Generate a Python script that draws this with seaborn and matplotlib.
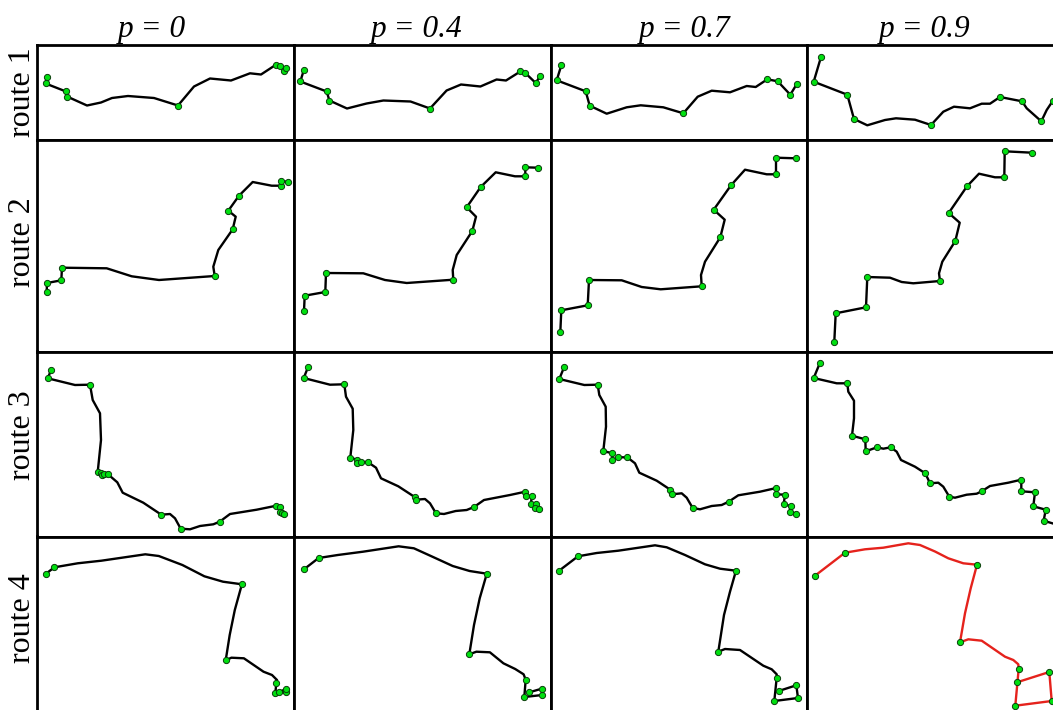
import numpy as np
import pandas as pd
import matplotlib.pyplot as plt
import seaborn as sns

p_labels = ['p = 0', 'p = 0.4', 'p = 0.7', 'p = 0.9']
route_labels = ['route 1', 'route 2', 'route 3', 'route 4']

# all routes, in picture pixels
r1_p0_x = [47, 45.6, 66, 67, 87, 101, 112, 128, 154, 178, 194, 210, 231, 250, 261, 276, 280, 284, 286]
r1_p0_y = [77.5, 83.5, 91.5, 96.5, 105.5, 102.5, 98, 96, 98, 105.5, 86.5, 78.5, 80.5, 73.3, 74.5, 64.7, 66, 71.5, 68.5]
r1_p0_stops = [0, 1, 2, 3, 9, 15, 16, 17, 18]
r1_p4_x = [303.7, 300.3, 326.7, 329.4, 347, 366.6, 383.4, 410.5, 430, 446.6, 461, 480.4, 496.6, 506, 520.3, 525.3, 535.7, 540]
r1_p4_y = [70.5, 81.5, 91.5, 100.5, 108.5, 103.5, 100.5, 101.5, 108.5, 90.5, 84.5, 86.5, 79.5, 80.5, 71.5, 73, 83, 76.3]
r1_p7_x = [561.3, 556.7, 585.7, 589.7, 606.7, 626.7, 640.7, 663.3, 683.3, 697.7, 711.7, 730, 746.7, 755.7, 767.3, 777.7, 790.3, 797]
r1_p7_y = [65.3, 80.3, 91.3, 105.7, 113.7, 107.3, 105.3, 107.3, 113.3, 96.7, 90.7, 92.3, 86, 87, 79.3, 81.3, 94.7, 83.7]
r1_p9_x = [821, 813.7, 847.3, 854, 867.3, 885, 896, 915, 931, 943.3, 954, 970, 981.7, 990, 1000, 1022, 1026.7, 1041.3, 1046.7, 1052.7]
r1_p9_y = [57, 81.7, 94.7, 119, 125.3, 120, 118.3, 119.7, 125, 111.7, 106.7, 108.3, 103.7, 103.7, 97, 101.3, 108.3, 121.3, 110, 101]
r1_p4_stops = [0, 1, 2, 3, 8, 14, 15, 16, 17]
r1_p7_stops = [0, 1, 2, 3, 8, 14, 15, 16, 17]
r1_p9_stops = [0, 1, 2, 3, 8, 14, 15, 17, 19]

r2_p0_x = [46.7, 47, 61.3, 62, 106.7, 131.7, 159, 214.7, 213.3, 218.3, 232.7, 235.7, 228.3, 239, 252.7, 271.7, 281, 281, 287.7]
r2_p0_y = [292, 283, 280.3, 267.7, 268.3, 276.3, 280, 276, 266.7, 250, 229.3, 216.7, 210.7, 195.7, 182, 185.7, 185.7, 181.3, 181.7]
r2_p4_x = [304, 304.7, 325.3, 326, 363.3, 385, 406.7, 453.3, 452.7, 456.7, 472.3, 476, 466.7, 480.7, 495.7, 515, 525.3, 525.3, 537.7]
r2_p4_y = [311, 295.7, 292, 273, 273.3, 280, 283, 279.7, 270, 255, 231, 216.7, 207.3, 187, 172.3, 176.3, 176.3, 167.3, 167.7]
r2_p7_x = [560.3, 561.3, 587.7, 589, 621.7, 641.7, 660.7, 701.7, 701, 705, 720.3, 724.7, 713.7, 731, 745, 766.7, 776, 776, 795.7]
r2_p7_y = [332.3, 310.3, 305.3, 280, 280.3, 287, 289.3, 286.3, 275, 261.7, 237.3, 219.7, 209.7, 185.3, 169.7, 174.3, 174.3, 157.7, 158.3]
r2_p9_x = [834.3, 835.7, 866, 867.3, 890, 901.7, 913.3, 940, 939, 942.3, 955.3, 959.7, 948.7, 967, 979, 995, 1004.3, 1004.7, 1032]
r2_p9_y = [341.7, 313.3, 307.3, 277, 277.7, 282, 283.3, 281, 273.3, 261.7, 241, 222.7, 213, 186.3, 173.7, 177.3, 177.3, 151.3, 152.7]
r2_stops = [0, 1, 2, 3, 7, 10, 12, 13, 16, 17, 18]

r3_p0_x = [51, 47.7, 75, 90, 92.7, 100, 101, 97.7, 101.3, 102, 103.7, 108, 117.3, 122.7, 143.3, 161.3, 170, 175, 180.7, 190, 200, 213.3, 219.7, 230, 256.7, 276.3, 280.3, 279.7, 282, 284]
r3_p0_y = [370.3, 378.3, 385, 384.7, 400, 413.3, 440, 472, 473.3, 475.3, 474.3, 474.3, 482.3, 492.7, 502.7, 514.7, 514, 518.3, 528.7, 529.3, 526, 524.3, 521.7, 514, 509.7, 505.7, 507.3, 512, 513.3, 514.3]
r3_p0_stops = [0, 1, 3, 7, 8, 9, 10, 11, 15, 18, 22, 25, 26, 27, 28, 29]
r3_p4_x = [308, 303.7, 330, 344.3, 346, 352.7, 353.3, 350.3, 357, 357, 360.7, 367.7, 376, 381, 398.3, 414.7, 415.7, 425, 430, 436, 444, 455.7, 466.7, 474, 484, 510, 525.3, 525.7, 531.7, 531, 535.7, 535.3, 539.3]
r3_p4_y = [367.3, 378, 384.7, 384.3, 396.7, 408.7, 430, 457.7, 459.7, 463.3, 462, 462, 467.7, 478.3, 486.3, 497, 499.7, 499, 503.3, 513.3, 514, 511, 510, 507, 500, 495, 491.7, 495.7, 496, 503.7, 504.3, 507.7, 509]
r3_p7_x = [564.3, 559.3, 584.3, 597.7, 599.3, 605.7, 606, 603.3, 612.3, 612.3, 618.3, 627.3, 635, 639.3, 656.7, 670.3, 672.3, 681.7, 686.7, 692.7, 700, 711.7, 721.7, 728.7, 738.3, 760, 776.3, 776.3, 785, 783.7, 790.7, 789.7, 796.3]
r3_p7_y = [366.7, 379, 385, 384.7, 395, 406.7, 426.7, 451, 453.3, 459.7, 457.3, 457.3, 463.3, 472.7, 480.7, 489.7, 494.3, 493.3, 497.7, 508, 509.3, 506, 505, 501.7, 495.3, 491.7, 488, 494.3, 494.7, 504.3, 506, 511.7, 513.7]
r3_p9_x = [820, 813.7, 836.7, 847.3, 848.3, 854, 854, 852, 865.3, 865.7, 877, 883.3, 890.7, 896.7, 901, 915, 925.3, 930, 938.3, 943.3, 949.3, 955, 966.7, 976.7, 981.7, 990, 1008.3, 1021.3, 1021.3, 1035, 1033.3, 1045.7, 1043.7, 1058]
r3_p9_y = [362.7, 378, 383.3, 383.3, 391.7, 400.7, 418.3, 435.7, 439.3, 451.3, 447.3, 448.7, 447.3, 451.7, 460, 466.7, 473.3, 483.3, 482.7, 486.7, 496.7, 497.7, 494.7, 493.7, 491.3, 486, 482.7, 479.7, 491.3, 492.3, 506.3, 509.7, 520.7, 525]
r3_p4_stops = [0, 1, 3, 7, 8, 9, 10, 11, 15, 16, 19, 23, 26, 27, 28, 29, 30, 31, 32]
r3_p7_stops = [0, 1, 3, 7, 8, 9, 10, 11, 15, 16, 19, 23, 26, 27, 28, 29, 30, 31, 32]
r3_p9_stops = [0, 1, 3, 7, 8, 9, 10, 12, 16, 17, 20, 24, 27, 28, 29, 30, 31, 32]

r4_p0_x = [45.6, 54.4, 77.7, 101.4, 145.3, 158.8, 182.4, 204.4, 223, 241.9, 234.8, 229.7, 225.7, 231.4, 243.9, 263.5, 272, 277, 276.4, 275.3, 286, 285.8, 279.4]
r4_p0_y = [574, 567.3, 563.3, 560.7, 554.3, 556, 565, 576.3, 581.7, 584.3, 610, 635, 660.3, 657.7, 658.3, 671.7, 675, 680, 683, 693, 692.3, 689.3, 691.7]
r4_p4_x = [304, 318.6, 337.8, 363, 398.6, 413.9, 432.4, 452.7, 469.6, 486.8, 479.7, 474, 469.3, 476.4, 489.9, 503.4, 515.2, 523.6, 525.7, 524.3, 542.3, 541.7, 529.3]
r4_p4_y = [569.3, 558, 555, 551.7, 546.3, 548.3, 556.7, 566, 571, 573.7, 598.3, 625, 654.3, 651.7, 652.3, 663.3, 669, 674.3, 679.7, 697, 695, 688.7, 692.3]
r4_p7_x = [558.7, 578, 596.7, 618.3, 655, 666.7, 685, 705, 720, 736, 730, 724, 718.3, 725, 740, 763.3, 771.7, 776.7, 776.7, 774.3, 798, 796.3, 778.7]
r4_p7_y = [571, 556.3, 553, 550.7, 545.3, 547.3, 555, 564.3, 568.7, 570.7, 591.7, 615, 651.7, 649, 650, 665.7, 669.3, 674.3, 677.7, 701, 698, 685.3, 691]
r4_p9_x = [815, 845, 865, 883.3, 908.3, 920, 935, 948.3, 963.3, 977, 970.7, 965, 960, 968.3, 981.7, 1005, 1013.3, 1018.3, 1018.7, 1015.3, 1051.7, 1049.3, 1017]
r4_p9_y = [575.7, 552.7, 549.3, 547.7, 543.3, 545, 551.5, 558.3, 563.3, 564.7, 588.3, 613.3, 642.3, 639.3, 640.7, 656.7, 660, 664.3, 668.7, 705.7, 701, 672, 682.3]
r4_stops = [0, 1, 9, 12, 18, 19, 20, 21, 22]

panels = [
    [(r1_p0_x, r1_p0_y, r1_p0_stops), (r1_p4_x, r1_p4_y, r1_p4_stops), (r1_p7_x, r1_p7_y, r1_p7_stops), (r1_p9_x, r1_p9_y, r1_p9_stops)],
    [(r2_p0_x, r2_p0_y, r2_stops), (r2_p4_x, r2_p4_y, r2_stops), (r2_p7_x, r2_p7_y, r2_stops), (r2_p9_x, r2_p9_y, r2_stops)],
    [(r3_p0_x, r3_p0_y, r3_p0_stops), (r3_p4_x, r3_p4_y, r3_p4_stops), (r3_p7_x, r3_p7_y, r3_p7_stops), (r3_p9_x, r3_p9_y, r3_p9_stops)],
    [(r4_p0_x, r4_p0_y, r4_stops), (r4_p4_x, r4_p4_y, r4_stops), (r4_p7_x, r4_p7_y, r4_stops), (r4_p9_x, r4_p9_y, r4_stops)],
]

W, H = 1053, 710
col_edges = [37, 293.5, 550.5, 807, 1056]
row_edges = [45, 139.5, 351.5, 536.5, 713]
title_x = [152, 417, 685, 925]
label_y = [92, 242, 435, 618]

sns.set_theme(style='white')
plt.rcParams['font.family'] = ['Liberation Serif', 'DejaVu Serif']

fig = plt.figure(figsize=(W / 100, H / 100), dpi=100)

for i in range(4):
    for j in range(4):
        x0, x1 = col_edges[j], col_edges[j + 1]
        y0, y1 = row_edges[i], row_edges[i + 1]
        ax = fig.add_axes([x0 / W, 1 - y1 / H, (x1 - x0) / W, (y1 - y0) / H])
        xs, ys, stops = panels[i][j]
        df = pd.DataFrame({'x': xs, 'y': ys})
        color = '#e5221c' if (i == 3 and j == 3) else 'black'
        sns.lineplot(data=df, x='x', y='y', sort=False, estimator=None, color=color,
                     linewidth=1.7, solid_joinstyle='round', ax=ax)
        sns.scatterplot(data=df.iloc[stops], x='x', y='y', color='#00e010', edgecolor='#0a3d0a',
                        linewidth=0.7, s=20, zorder=5, ax=ax)
        ax.set_xlim(x0, x1)
        ax.set_ylim(y1, y0)
        ax.set_xlabel('')
        ax.set_ylabel('')
        ax.set_xticks([])
        ax.set_yticks([])
        for s in ax.spines.values():
            s.set_linewidth(2.0)
            s.set_color('black')

for j in range(4):
    fig.text(title_x[j] / W, 1 - 36.5 / H, p_labels[j], ha='center', va='baseline', fontsize=22.5,
             style='italic', color='black')
for i in range(4):
    fig.text(37 / W, 1 - label_y[i] / H, route_labels[i], ha='right', va='center', rotation=90,
             fontsize=23, color='black')

plt.savefig('out.png', dpi=100)
